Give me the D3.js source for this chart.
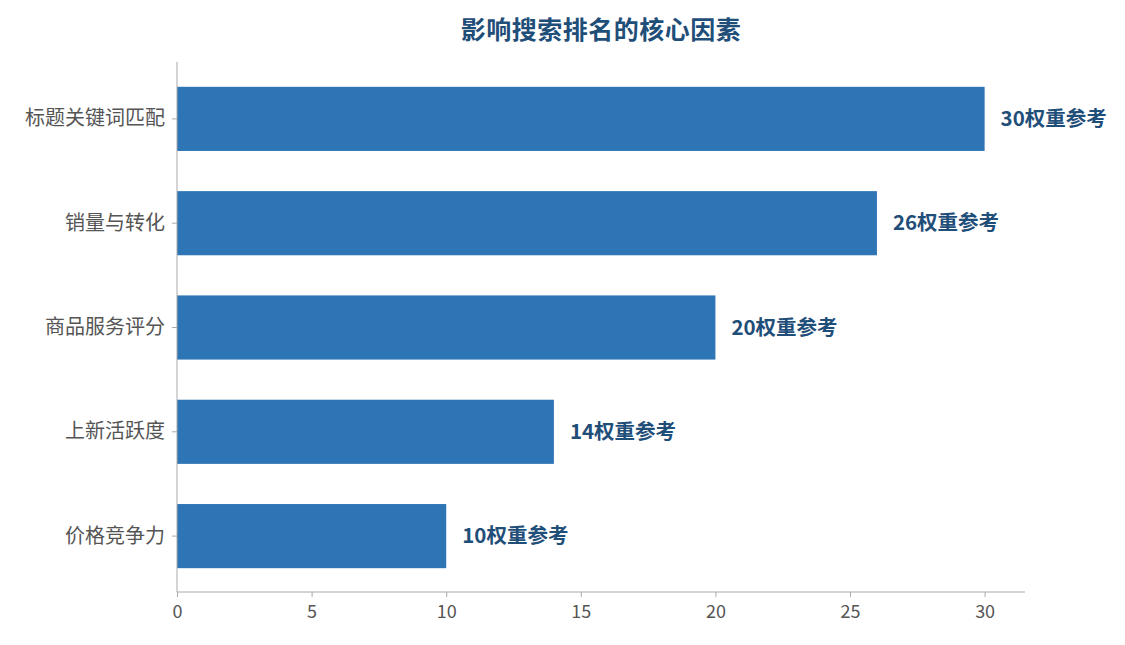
<!DOCTYPE html>
<html><head><meta charset="utf-8">
<script src="https://cdn.jsdelivr.net/npm/d3@7"></script>
<style>body{margin:0;background:#fff;font-family:"Noto Sans CJK SC","Noto Sans",sans-serif;}</style>
</head><body>
<svg id="chart" width="1125" height="645"></svg>
<script>
var categories = ["标题关键词匹配", "销量与转化", "商品服务评分", "上新活跃度", "价格竞争力"];
var values = [30, 26, 20, 14, 10];
var xTicks = [0, 5, 10, 15, 20, 25, 30];
var suffix = "权重参考";

var svg = d3.select("#chart");
var x = d3.scaleLinear().domain([0, 31.5]).range([177, 1025]);
var y = d3.scaleBand().domain(categories).range([67, 588]).paddingInner(0.385).paddingOuter(0.19);

svg.append("text").attr("x", 601).attr("y", 39).attr("text-anchor", "middle")
  .attr("font-size", 25).attr("font-weight", "bold").attr("fill", "#1f4e79")
  .attr("letter-spacing", 0.5)
  .text("影响搜索排名的核心因素");

svg.selectAll("rect.bar").data(values).enter().append("rect")
  .attr("class", "bar")
  .attr("x", x(0))
  .attr("y", function(d, i) { return y(categories[i]); })
  .attr("width", function(d) { return x(d) - x(0); })
  .attr("height", y.bandwidth())
  .attr("fill", "#2e75b6");

svg.selectAll("text.val").data(values).enter().append("text")
  .attr("class", "val")
  .attr("x", function(d) { return x(d) + 16; })
  .attr("y", function(d, i) { return y(categories[i]) + y.bandwidth() / 2; })
  .attr("dy", "0.35em")
  .attr("font-size", 20.5).attr("font-weight", "bold").attr("fill", "#1f4e79")
  .text(function(d) { return d + suffix; });

var xAxis = svg.append("g").attr("transform", "translate(0,592)")
  .call(d3.axisBottom(x).tickValues(xTicks).tickSize(5).tickSizeOuter(0));
var yAxis = svg.append("g").attr("transform", "translate(177,0)")
  .call(d3.axisLeft(y).tickSize(5).tickSizeOuter(0));
yAxis.select(".domain").attr("d", "M0,62V592");
xAxis.select(".domain").attr("d", "M177,0H1025");

[xAxis, yAxis].forEach(function(a) {
  a.selectAll(".domain, line").attr("stroke", "#aaa");
  a.selectAll("text").attr("fill", "#555").attr("font-size", 20)
    .attr("font-family", "'Noto Sans CJK SC','Noto Sans',sans-serif");
});
xAxis.selectAll("text").attr("font-size", 18).attr("dy", "1.0em");
yAxis.selectAll("text").attr("x", -12);
</script>
</body></html>
